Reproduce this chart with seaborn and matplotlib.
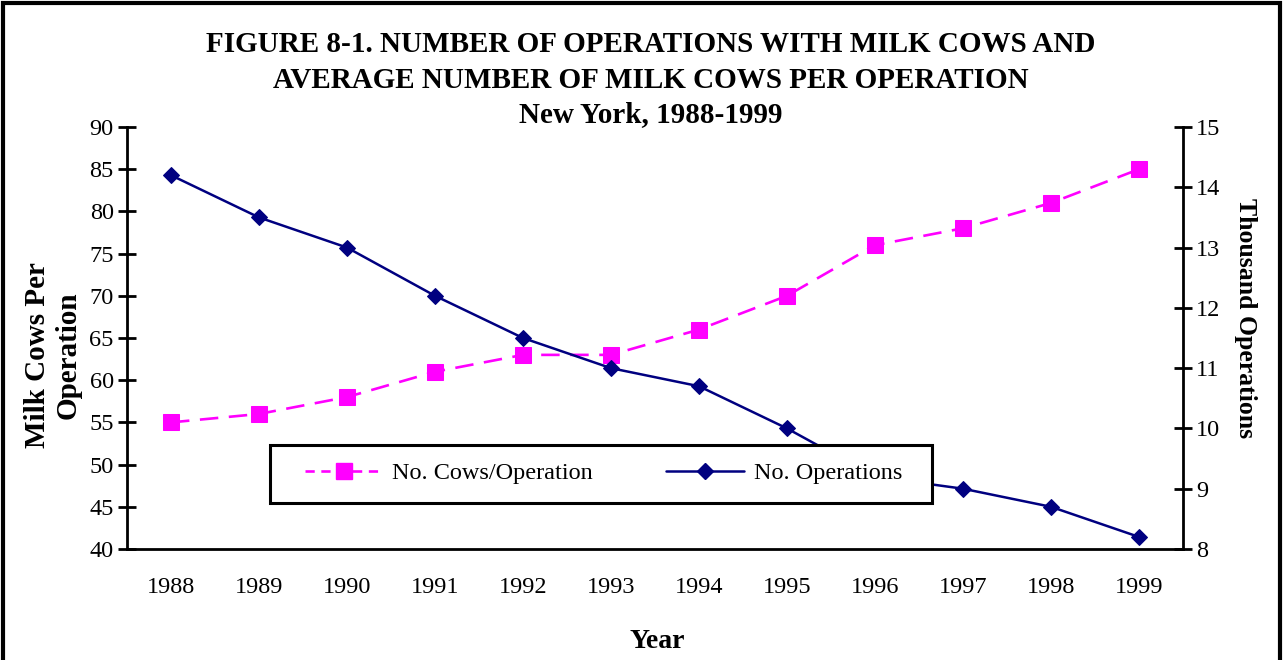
import matplotlib
matplotlib.use("Agg")
import matplotlib.pyplot as plt
import seaborn as sns
import pandas as pd
from matplotlib.lines import Line2D
from matplotlib.patches import Rectangle

years = ["1988", "1989", "1990", "1991", "1992", "1993",
         "1994", "1995", "1996", "1997", "1998", "1999"]
cows_per_operation = [55, 56, 58, 61, 63, 63, 66, 70, 76, 78, 81, 85]
thousand_operations = [14.2, 13.5, 13.0, 12.2, 11.5, 11.0, 10.7, 10.0, 9.2, 9.0, 8.7, 8.2]
left_ticks = [40, 45, 50, 55, 60, 65, 70, 75, 80, 85, 90]
right_ticks = [8, 9, 10, 11, 12, 13, 14, 15]

title_lines = ["FIGURE 8-1. NUMBER OF OPERATIONS WITH MILK COWS AND",
               "AVERAGE NUMBER OF MILK COWS PER OPERATION",
               "New York, 1988-1999"]

sns.set_theme(style="white")
plt.rcParams["font.family"] = ["Liberation Serif", "DejaVu Serif"]
plt.rcParams["text.color"] = "black"
plt.rcParams["axes.labelcolor"] = "black"
plt.rcParams["xtick.color"] = "black"
plt.rcParams["ytick.color"] = "black"

df = pd.DataFrame({"Year": years, "Cows": cows_per_operation, "Ops": thousand_operations})
df["pos"] = range(len(years))

W, H = 1284, 660
fig = plt.figure(figsize=(12.84, 6.60), dpi=100)
ax = fig.add_axes([127 / W, 1 - 549 / H, (1183 - 127) / W, (549 - 127) / H])
ax2 = ax.twinx()

magenta = "#FF00FF"
navy = "#000080"

sns.lineplot(data=df, x="pos", y="Cows", ax=ax, color=magenta, linestyle=(0, (7, 4)),
             linewidth=1.9, marker="s", markersize=11.5, markeredgecolor=magenta,
             markerfacecolor=magenta, zorder=3)
sns.lineplot(data=df, x="pos", y="Ops", ax=ax2, color=navy, linewidth=1.8,
             marker="D", markersize=8, markeredgecolor=navy, markerfacecolor=navy, zorder=3)

ax.set_xlim(-0.5, len(years) - 0.5)
ax.set_ylim(40, 90)
ax2.set_ylim(8, 15)
ax.set_yticks(left_ticks)
ax2.set_yticks(right_ticks)

ax.set_xticks([i - 0.5 for i in range(len(years) + 1)])
ax.set_xticklabels([])
ax.set_xticks(list(range(len(years))), minor=True)
ax.set_xticklabels(years, minor=True)
ax.tick_params(axis="x", which="major", direction="inout", length=13, width=2, color="black")
ax.tick_params(axis="x", which="minor", length=0, pad=20, labelsize=17.5, labelcolor="black")
ax.tick_params(axis="y", direction="inout", length=13, width=2, color="black",
               labelsize=17.5, labelcolor="black", pad=3, left=True)
ax2.tick_params(axis="y", direction="inout", length=13, width=2, color="black",
                labelsize=17.5, labelcolor="black", pad=3, right=True)

for a in (ax, ax2):
    for s in ["left", "right", "bottom", "top"]:
        a.spines[s].set_visible(False)
ax.spines["left"].set_visible(True)
ax.spines["bottom"].set_visible(True)
ax2.spines["right"].set_visible(True)
for sp in (ax.spines["left"], ax.spines["bottom"], ax2.spines["right"]):
    sp.set_color("black")
    sp.set_linewidth(2)

ax.set_xlabel("")
ax.set_ylabel("")
ax2.set_ylabel("")
ax.grid(False)
ax2.grid(False)

fig.text(53 / W, 1 - 355 / H, "Milk Cows Per\nOperation", rotation=90, ha="center", va="center",
         fontsize=21, fontweight="bold", linespacing=1.15)
fig.text(1245 / W, 1 - 318 / H, "Thousand Operations", rotation=-90, ha="center", va="center",
         fontsize=18.5, fontweight="bold")
fig.text(657 / W, 1 - 641 / H, "Year", ha="center", va="center", fontsize=20, fontweight="bold")

tys = [44, 80, 115]
for t, y in zip(title_lines, tys):
    fig.text(651 / W, 1 - y / H, t, ha="center", va="center", fontsize=21, fontweight="bold")

# legend frame
frame = Rectangle((270 / W, 1 - 503 / H), (932 - 270) / W, (503 - 445) / H,
                  transform=fig.transFigure, facecolor="white", edgecolor="black",
                  linewidth=2.2, zorder=9, clip_on=False)
ax2.add_patch(frame)

handles = [Line2D([], [], color=magenta, linestyle=(0, (3.5, 2.5)), linewidth=1.9, marker="s",
                  markersize=11.5, markeredgecolor=magenta, markerfacecolor=magenta),
           Line2D([], [], color=navy, linewidth=1.8, marker="D", markersize=8,
                  markeredgecolor=navy, markerfacecolor=navy)]
leg = ax2.legend(handles, ["No. Cows/Operation", "No. Operations"], ncol=2,
                 loc="center left", bbox_to_anchor=(305 / W, 1 - 473 / H),
                 bbox_transform=fig.transFigure, fontsize=17.5, frameon=False,
                 handlelength=3.2, columnspacing=3.0, borderpad=0, borderaxespad=0,
                 handletextpad=0.4)
leg.set_zorder(10)

fig.patches.append(Rectangle((3 / W, -0.1), 1277 / W, 1.1 - 3 / H, transform=fig.transFigure,
                             fill=False, edgecolor="black", linewidth=3))

fig.savefig("out.png", dpi=100)
